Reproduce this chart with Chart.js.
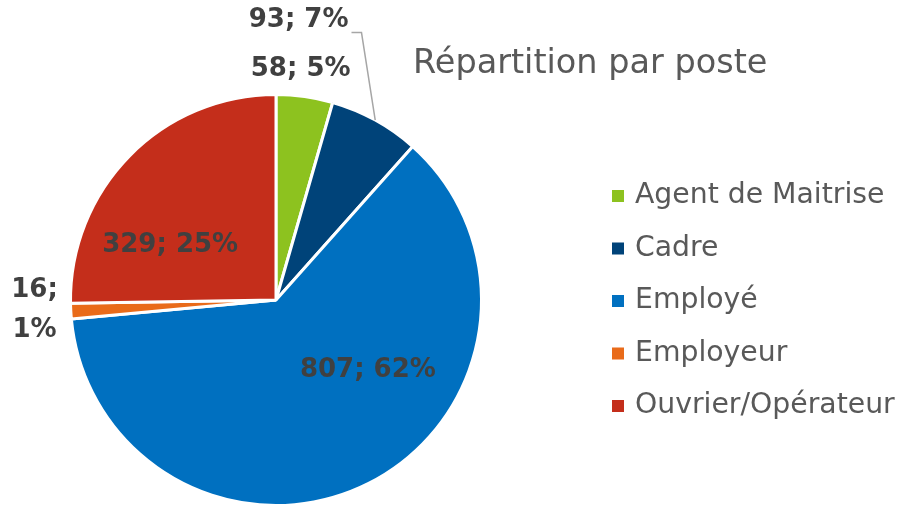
<!DOCTYPE html>
<html>
<head>
<meta charset="utf-8">
<script src="https://cdn.jsdelivr.net/npm/chart.js@4.4.1/dist/chart.umd.min.js"></script>
<style>
  html, body { margin: 0; padding: 0; background: #fff; overflow: hidden; }
  #wrap { width: 910px; height: 512px; position: relative; }
</style>
</head>
<body>
<div id="wrap"><canvas id="pie"></canvas></div>
<script>
// Data
const categories = ['Agent de Maitrise', 'Cadre', 'Employé', 'Employeur', 'Ouvrier/Opérateur'];
const counts = [58, 93, 807, 16, 329];
const percents = ['5%', '7%', '62%', '1%', '25%'];
const colors = ['#8DC21F', '#004379', '#0070C0', '#E96B1A', '#C42E1B'];
const title = 'Répartition par poste';

// label placement relative to pie centre, in units of radius
const labelPos = [
  [0.12, -1.125],
  [0.11, -1.36],
  [0.447, 0.34],
  [-1.175, 0.05],
  [-0.515, -0.267]
];

const FONT = "'DejaVu Sans', sans-serif";

const labelPlugin = {
  id: 'sliceLabels',
  afterDatasetsDraw(chart) {
    const ctx = chart.ctx;
    const meta = chart.getDatasetMeta(0);
    ctx.save();
    ctx.font = 'bold 26px ' + FONT;
    ctx.fillStyle = '#404040';
    ctx.textAlign = 'center';
    ctx.textBaseline = 'middle';
    meta.data.forEach((arc, i) => {
      const r = arc.outerRadius;
      const x = arc.x + labelPos[i][0] * r;
      const y = arc.y + labelPos[i][1] * r;
      const text = counts[i] + '; ' + percents[i];
      if (i === 3) {
        // narrow slot: wraps on two lines
        ctx.fillText(counts[i] + ';', x, y - 20);
        ctx.fillText(percents[i], x, y + 20);
      } else {
        ctx.fillText(text, x, y);
      }
      if (i === 1) {
        // leader line to the middle of the slice edge
        const w = ctx.measureText(text).width;
        const mid = (arc.startAngle + arc.endAngle) / 2;
        const ex = arc.x + Math.cos(mid) * r;
        const ey = arc.y + Math.sin(mid) * r;
        ctx.strokeStyle = '#A6A6A6';
        ctx.lineWidth = 1.5;
        ctx.beginPath();
        ctx.moveTo(x + w / 2 + 3, y + 12);
        ctx.lineTo(x + w / 2 + 13, y + 12);
        ctx.lineTo(ex, ey);
        ctx.stroke();
      }
    });
    ctx.restore();
  }
};

const sidePlugin = {
  id: 'sideText',
  afterDraw(chart) {
    const ctx = chart.ctx;
    ctx.save();
    ctx.fillStyle = '#595959';
    ctx.font = '33.5px ' + FONT;
    ctx.textAlign = 'left';
    ctx.textBaseline = 'alphabetic';
    ctx.fillText(title, 413, 73);

    ctx.font = '28.3px ' + FONT;
    ctx.textBaseline = 'middle';
    chart.data.labels.forEach((lab, i) => {
      const y = 196 + i * 52.5;
      ctx.fillStyle = chart.data.datasets[0].backgroundColor[i];
      ctx.fillRect(612, y - 6, 12, 12);
      ctx.fillStyle = '#595959';
      ctx.fillText(lab, 635, y);
    });
    ctx.restore();
  }
};

new Chart(document.getElementById('pie'), {
  type: 'pie',
  data: {
    labels: categories,
    datasets: [{
      data: counts,
      backgroundColor: colors,
      borderColor: '#FFFFFF',
      borderWidth: 3
    }]
  },
  options: {
    responsive: true,
    maintainAspectRatio: false,
    animation: false,
    layout: { padding: { top: 93, bottom: 5, left: 69, right: 427 } },
    plugins: {
      legend: { display: false },
      tooltip: { enabled: false },
      title: { display: false }
    }
  },
  plugins: [labelPlugin, sidePlugin]
});
</script>
</body>
</html>
